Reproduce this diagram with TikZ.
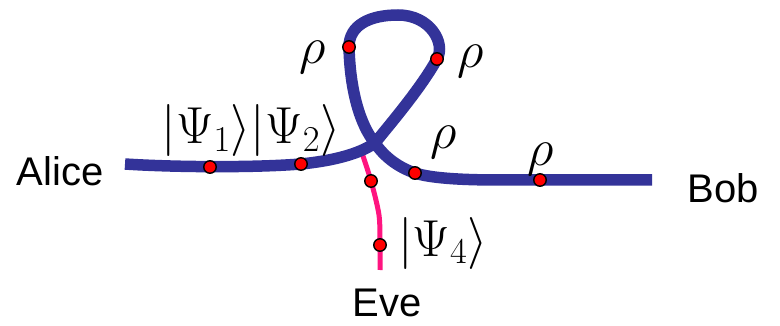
\RequirePackage{fix-cm}
\documentclass[tikz,border=0pt]{standalone}
\usepackage{fontspec}
\usepackage{tikz}
\newfontfamily\namefont{Liberation Sans}
\definecolor{wire}{HTML}{333399}
\definecolor{tap}{HTML}{FF1480}
\definecolor{qubit}{HTML}{FF0000}

\begin{document}
\begin{tikzpicture}[x=1pt,y=-1pt,
    wireline/.style={draw=wire, line width=11.5pt},
    tapline/.style={draw=tap, line width=5pt},
    qdot/.style={circle, fill=qubit, draw=black, line width=1.4pt, minimum size=12.5pt, inner sep=0pt},
    party/.style={font=\namefont\fontsize{40}{48}\selectfont, inner sep=0pt},
    state/.style={font=\fontsize{52}{62}\selectfont, inner sep=0pt}]
        \fill[white] (0,0) rectangle (780,326);
        \useasboundingbox (0,0) rectangle (780,326);
        % path points
        \coordinate (a0) at (125,164);
        \coordinate (a1) at (210,167);
        \coordinate (a2) at (301,164);
        \coordinate (x) at (375,143);
        \coordinate (l1) at (437,59);
        \coordinate (l2) at (398,15);
        \coordinate (l3) at (349,47);
        \coordinate (b1) at (415,173);
        \coordinate (b2) at (540,180);
        \coordinate (b0) at (652,180);
        \coordinate (e0) at (361,150);
        \coordinate (e1) at (371,181);
        \coordinate (e2) at (380,245);
        \coordinate (e3) at (380,270);
        \draw[tapline] plot[smooth] coordinates {(e0) (e1) (379,215) (e2) (e3)};
        \draw[wireline] (a0) .. controls (170,167) and (250,168) .. (a2)
            .. controls (340,160) and (362,152) .. (x)
            .. controls (385,130) and (420,90) .. (l1)
            .. controls (446,43) and (430,15) .. (l2)
            .. controls (370,15) and (349,25) .. (l3)
            .. controls (350,90) and (360,125) .. (x)
            .. controls (385,158) and (400,168) .. (b1)
            .. controls (430,178) and (460,180) .. (500,180) -- (b0);
        \foreach \p in {a1,a2,l1,l3,b1,b2,e1,e2}
            \node[qdot] (q\p) at (\p) {};
        \node[state] (r1) at (313,57) {$\rho$};
        \node[state] (r2) at (471,61) {$\rho$};
        \node[state] (r3) at (444,142) {$\rho$};
        \node[state] (r4) at (541,159) {$\rho$};
        \node[state] (k12) at (251,131) {$|\Psi_1\rangle|\Psi_2\rangle$};
        \node[state] (k4) at (443,243) {$|\Psi_4\rangle$};
        \node[party] (alice) at (60,171) {Alice};
        \node[party] (bob) at (723,188) {Bob};
        \node[party] (eve) at (387,303) {Eve};
      \end{tikzpicture}
\end{document}
